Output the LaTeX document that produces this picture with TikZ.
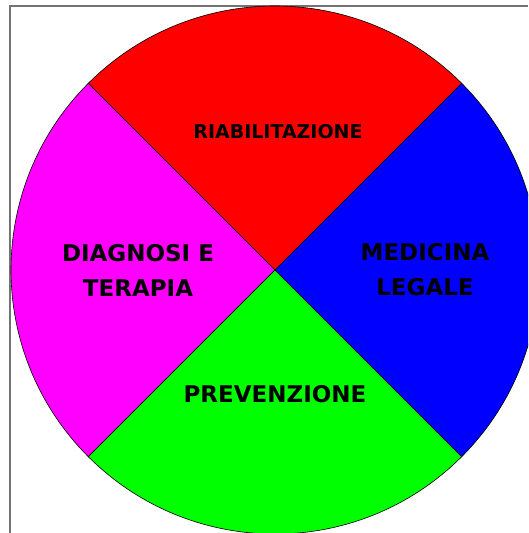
\documentclass[tikz,border=0pt]{standalone}
\usepackage{fontspec}
\setsansfont{DejaVu Sans}
\usepackage{tikz}
\usetikzlibrary{positioning}

\definecolor{secred}{RGB}{255,0,0}
\definecolor{secmag}{RGB}{255,0,255}
\definecolor{secgreen}{RGB}{0,255,0}
\definecolor{secblue}{RGB}{0,0,255}

\tikzset{
  sector/.style={draw=black,line width=0.6pt},
  lbl/.style={font=\sffamily\bfseries\fontsize{23}{35}\selectfont,align=center,text=black},
}

\begin{document}
\begin{tikzpicture}[x=1pt,y=1pt]
\useasboundingbox (0,0) rectangle (528,533);
\clip (0,0) rectangle (528,533);
%%%%% Frame %%%%%
\draw[color=gray!90!black,line width=1.8pt] (10,0)--(10,527)--(528,527);
%%%%% Sectors %%%%%
\coordinate (centre) at (275,263);
\foreach \a/\col in {45/secred,135/secmag,225/secgreen,-45/secblue}{
\filldraw[sector,fill=\col] (centre) -- ++(\a:264pt) arc (\a:\a+90:264pt) -- cycle;
}
\node[lbl,font=\sffamily\bfseries\fontsize{19}{22}\selectfont] (riab) at (278,401) {RIABILITAZIONE};
\node[lbl] (diagn) at (138,263) {DIAGNOSI E\\TERAPIA};
\node[lbl] (medic) at (425,263) {MEDICINA\\LEGALE};
\node[lbl] (prev) at (275,139) {PREVENZIONE};

\end{tikzpicture}
\end{document}
